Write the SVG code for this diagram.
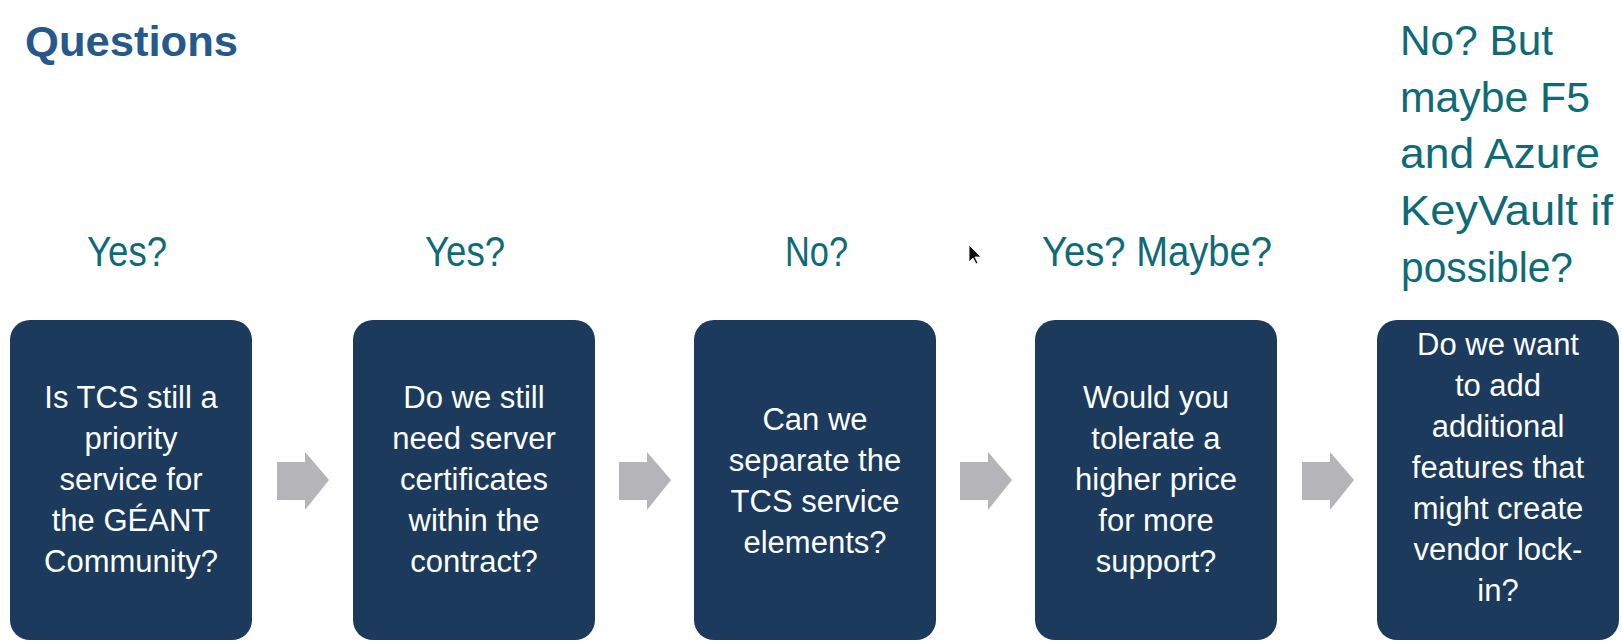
<svg xmlns="http://www.w3.org/2000/svg" width="1622" height="641" viewBox="0 0 1622 641">
  <style>
    .box { fill: #1b3a5c; }
    .q { font-family: "Liberation Sans", Arial, sans-serif; font-size: 31px; fill: #ffffff; text-anchor: middle; }
    .ans { font-family: "Liberation Sans", Arial, sans-serif; font-size: 43px; fill: #0f6a78; }
    .title { font-family: "Liberation Sans", Arial, sans-serif; font-size: 42px; font-weight: bold; fill: #25598b; }
    .arrow { fill: #b5b5b9; }
  </style>
  <defs>
    <!-- block arrow used between the question cards -->
    <path id="blockArrow" d="M0,10 H28 V0 L52,28 L28,58 V48 H0 Z"/>
  </defs>

  <rect width="1622" height="641" fill="#ffffff"/>

  <text class="title" x="25" y="56" textLength="213" lengthAdjust="spacingAndGlyphs">Questions</text>

  <!-- answers above the cards -->
  <g id="answers">
    <text class="ans" x="87" y="266" textLength="80" lengthAdjust="spacingAndGlyphs">Yes?</text>
    <text class="ans" x="425" y="266" textLength="80" lengthAdjust="spacingAndGlyphs">Yes?</text>
    <text class="ans" x="785" y="266" textLength="63" lengthAdjust="spacingAndGlyphs">No?</text>
    <text class="ans" x="1042" y="266" textLength="230" lengthAdjust="spacingAndGlyphs">Yes? Maybe?</text>
    <text class="ans" x="1400" y="55" textLength="153" lengthAdjust="spacingAndGlyphs">No? But</text>
    <text class="ans" x="1400" y="112" textLength="190" lengthAdjust="spacingAndGlyphs">maybe F5</text>
    <text class="ans" x="1400" y="168" textLength="200" lengthAdjust="spacingAndGlyphs">and Azure</text>
    <text class="ans" x="1400" y="225" textLength="213" lengthAdjust="spacingAndGlyphs">KeyVault if</text>
    <text class="ans" x="1401" y="282" textLength="172" lengthAdjust="spacingAndGlyphs">possible?</text>
  </g>

  <!-- connectors -->
  <g id="connectors" class="arrow">
    <use href="#blockArrow" x="277" y="452"/>
    <use href="#blockArrow" x="619" y="452"/>
    <use href="#blockArrow" x="960" y="452"/>
    <use href="#blockArrow" x="1302" y="452"/>
  </g>

  <g id="card1">
    <rect class="box" x="10" y="320" width="242" height="320" rx="20"/>
    <text class="q" x="131" y="408">Is TCS still a</text>
    <text class="q" x="131" y="449">priority</text>
    <text class="q" x="131" y="490">service for</text>
    <text class="q" x="131" y="531">the GÉANT</text>
    <text class="q" x="131" y="572">Community?</text>
  </g>

  <g id="card2">
    <rect class="box" x="353" y="320" width="242" height="320" rx="20"/>
    <text class="q" x="474" y="408">Do we still</text>
    <text class="q" x="474" y="449">need server</text>
    <text class="q" x="474" y="490">certificates</text>
    <text class="q" x="474" y="531">within the</text>
    <text class="q" x="474" y="572">contract?</text>
  </g>

  <g id="card3">
    <rect class="box" x="694" y="320" width="242" height="320" rx="20"/>
    <text class="q" x="815" y="430">Can we</text>
    <text class="q" x="815" y="471">separate the</text>
    <text class="q" x="815" y="512">TCS service</text>
    <text class="q" x="815" y="553">elements?</text>
  </g>

  <g id="card4">
    <rect class="box" x="1035" y="320" width="242" height="320" rx="20"/>
    <text class="q" x="1156" y="408">Would you</text>
    <text class="q" x="1156" y="449">tolerate a</text>
    <text class="q" x="1156" y="490">higher price</text>
    <text class="q" x="1156" y="531">for more</text>
    <text class="q" x="1156" y="572">support?</text>
  </g>

  <g id="card5">
    <rect class="box" x="1377" y="320" width="242" height="320" rx="20"/>
    <text class="q" x="1498" y="355">Do we want</text>
    <text class="q" x="1498" y="396">to add</text>
    <text class="q" x="1498" y="437">additional</text>
    <text class="q" x="1498" y="478">features that</text>
    <text class="q" x="1498" y="519">might create</text>
    <text class="q" x="1498" y="560">vendor lock-</text>
    <text class="q" x="1498" y="601">in?</text>
  </g>

  <!-- mouse pointer -->
  <path d="M969,245 V262 L973,258 L976,264 L978,263 L975,257 L981,257 Z" fill="#111111" stroke="#ffffff" stroke-width="0.8"/>
</svg>
